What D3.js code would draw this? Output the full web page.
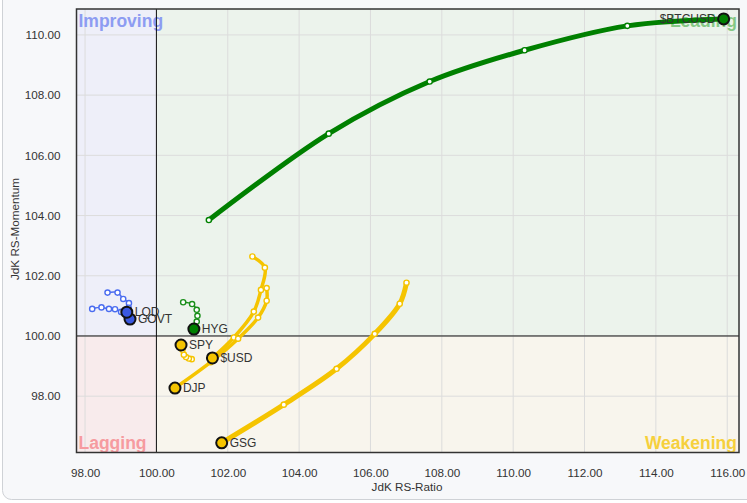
<!DOCTYPE html>
<html><head><meta charset="utf-8">
<script src="https://cdn.jsdelivr.net/npm/d3@7"></script>
<style>
html,body{margin:0;padding:0;background:#fff;}
svg{display:block;font-family:"Liberation Sans",Arial,sans-serif;}
</style></head>
<body><svg id="c" width="747" height="503"></svg>
<script>
// ---- data ----
const xTicks = [98,100,102,104,106,108,110,112,114,116];
const yTicks = [98,100,102,104,106,108,110];
const btcX = [101.47,104.83,107.66,110.32,113.20,115.90];
const btcY = [103.85,106.72,108.45,109.49,110.30,110.53];
const hygX = [100.75,101.00,101.13,101.15,101.13,101.05];
const hygY = [101.12,101.06,100.87,100.67,100.48,100.23];
const lqdX = [98.63,98.91,99.07,99.23,99.22,99.17];
const lqdY = [101.44,101.44,101.23,101.09,100.94,100.79];
const govtX = [98.20,98.46,98.67,98.84,99.01,99.26];
const govtY = [100.90,100.95,100.90,100.89,100.80,100.56];
const spyX = [100.99,100.91,100.83,100.77,100.73,100.69];
const spyY = [99.23,99.25,99.30,99.38,99.54,99.70];
const usdX = [102.69,103.04,102.93,102.73,102.17,101.57];
const usdY = [102.64,102.27,101.53,100.81,99.95,99.27];
const djpX = [103.09,103.09,102.85,102.29,101.52,100.52];
const djpY = [101.59,101.17,100.61,99.91,99.13,98.27];
const gsgX = [107.01,106.82,106.12,105.05,103.57,101.83];
const gsgY = [101.77,101.07,100.07,98.91,97.72,96.45];

const series = [
  {name:"$BTCUSD", xs:btcX, ys:btcY, color:"#008000", w:5, labelLeft:true},
  {name:"GSG", xs:gsgX, ys:gsgY, color:"#f5c400", w:5},
  {name:"$USD", xs:usdX, ys:usdY, color:"#f5c400", w:3.5},
  {name:"DJP", xs:djpX, ys:djpY, color:"#f5c400", w:3.5},
  {name:"SPY", xs:spyX, ys:spyY, color:"#f5c400", w:1.5},
  {name:"HYG", xs:hygX, ys:hygY, color:"#1a8f1a", head:"#008000", w:1.5},
  {name:"GOVT", xs:govtX, ys:govtY, color:"#4a6cf0", head:"#3a58e0", w:1.5},
  {name:"LQD", xs:lqdX, ys:lqdY, color:"#4a6cf0", head:"#3a58e0", w:1.5}
];

// ---- layout ----
const svg = d3.select("#c");
const L = 76.5, R = 739, T = 9, B = 452.5;
const x = d3.scaleLinear().domain([97.76, 116.33]).range([L, R]);
const y = d3.scaleLinear().domain([96.13, 110.86]).range([B, T]);

// outer frame
svg.append("rect").attr("x",2.5).attr("y",-20).attr("width",780).attr("height",519.5)
  .attr("rx",9).attr("fill","#f7f8fa").attr("stroke","#cfd2d6").attr("stroke-width",1);

// quadrants
const x0 = x(100), y0 = y(100);
const quads = [
  [L,T,x0-L,y0-T,"#eeeff9"],
  [x0,T,R-x0,y0-T,"#ecf3ec"],
  [L,y0,x0-L,B-y0,"#f8ebec"],
  [x0,y0,R-x0,B-y0,"#f8f5ed"]
];
quads.forEach(q=>svg.append("rect").attr("x",q[0]).attr("y",q[1]).attr("width",q[2]).attr("height",q[3]).attr("fill",q[4]));

// grid
const g = svg.append("g");
g.selectAll(".vx").data(xTicks).join("line").attr("x1",d=>x(d)).attr("x2",d=>x(d)).attr("y1",T).attr("y2",B)
  .attr("stroke","#dcdcdc").attr("stroke-width",1);
g.selectAll(".hy").data(yTicks).join("line").attr("y1",d=>y(d)).attr("y2",d=>y(d)).attr("x1",L).attr("x2",R)
  .attr("stroke","#dcdcdc").attr("stroke-width",1);

// quadrant labels
const ql = [
  {t:"Improving", x:L+2, y:T+18, a:"start", c:"#8d9cf2"},
  {t:"Leading", x:R-2, y:T+18, a:"end", c:"#86c886"},
  {t:"Lagging", x:L+2, y:B-4, a:"start", c:"#f69ba0"},
  {t:"Weakening", x:R-2, y:B-4, a:"end", c:"#f6d03c"}
];
ql.forEach(d=>svg.append("text").attr("x",d.x).attr("y",d.y).attr("text-anchor",d.a)
  .attr("font-size",17.5).attr("font-weight","bold").attr("fill",d.c).text(d.t));

// center lines
svg.append("line").attr("x1",x0).attr("x2",x0).attr("y1",T).attr("y2",B).attr("stroke","#111").attr("stroke-width",1);
svg.append("line").attr("x1",L).attr("x2",R).attr("y1",y0).attr("y2",y0).attr("stroke","#111").attr("stroke-width",1);
// border
svg.append("rect").attr("x",L).attr("y",T).attr("width",R-L).attr("height",B-T).attr("fill","none")
  .attr("stroke","#333").attr("stroke-width",1.5);

// axes
const xa = svg.append("g").attr("transform",`translate(0,${B})`)
  .call(d3.axisBottom(x).tickValues(xTicks).tickFormat(d3.format(".2f")).tickSize(0).tickPadding(16));
xa.select(".domain").remove();
xa.selectAll("text").attr("font-size",11.7).attr("fill","#333").attr("font-family","Liberation Sans, Arial, sans-serif");
const ya = svg.append("g").attr("transform",`translate(${L},0)`)
  .call(d3.axisLeft(y).tickValues(yTicks).tickFormat(d3.format(".2f")).tickSize(0).tickPadding(16));
ya.select(".domain").remove();
ya.selectAll("text").attr("font-size",11.7).attr("fill","#333").attr("font-family","Liberation Sans, Arial, sans-serif");

svg.append("text").attr("x",407).attr("y",491).attr("text-anchor","middle").attr("font-size",11.7).attr("fill","#333").text("JdK RS-Ratio");
svg.append("text").attr("transform","translate(19,229) rotate(-90)").attr("text-anchor","middle").attr("font-size",11.7).attr("fill","#333").text("JdK RS-Momentum");

// series
const line = d3.line().x(d=>x(d[0])).y(d=>y(d[1])).curve(d3.curveCatmullRom.alpha(0.5));
const lay = svg.append("g");
series.forEach(s=>{
  const pts = s.xs.map((v,i)=>[v,s.ys[i]]);
  lay.append("path").attr("d",line(pts)).attr("fill","none").attr("stroke",s.color)
    .attr("stroke-width",s.w).attr("stroke-linecap","round").attr("stroke-linejoin","round");
});
series.forEach(s=>{
  const pts = s.xs.map((v,i)=>[v,s.ys[i]]);
  lay.selectAll(null).data(pts.slice(0,-1)).join("circle").attr("cx",d=>x(d[0])).attr("cy",d=>y(d[1]))
    .attr("r",2.6).attr("fill","#fff").attr("stroke",s.color).attr("stroke-width",1.4);
});
series.forEach(s=>{
  const n = s.xs.length-1;
  const hx = x(s.xs[n]), hy = y(s.ys[n]);
  lay.append("text").attr("x",s.labelLeft?hx-8:hx+8).attr("y",hy).attr("dy","0.35em")
    .attr("text-anchor",s.labelLeft?"end":"start").attr("font-size",12).attr("fill","#333").text(s.name);
});
series.forEach(s=>{
  const n = s.xs.length-1;
  lay.append("circle").attr("cx",x(s.xs[n])).attr("cy",y(s.ys[n])).attr("r",5.5)
    .attr("fill",s.head||s.color).attr("stroke","#111").attr("stroke-width",2);
});
</script></body></html>
